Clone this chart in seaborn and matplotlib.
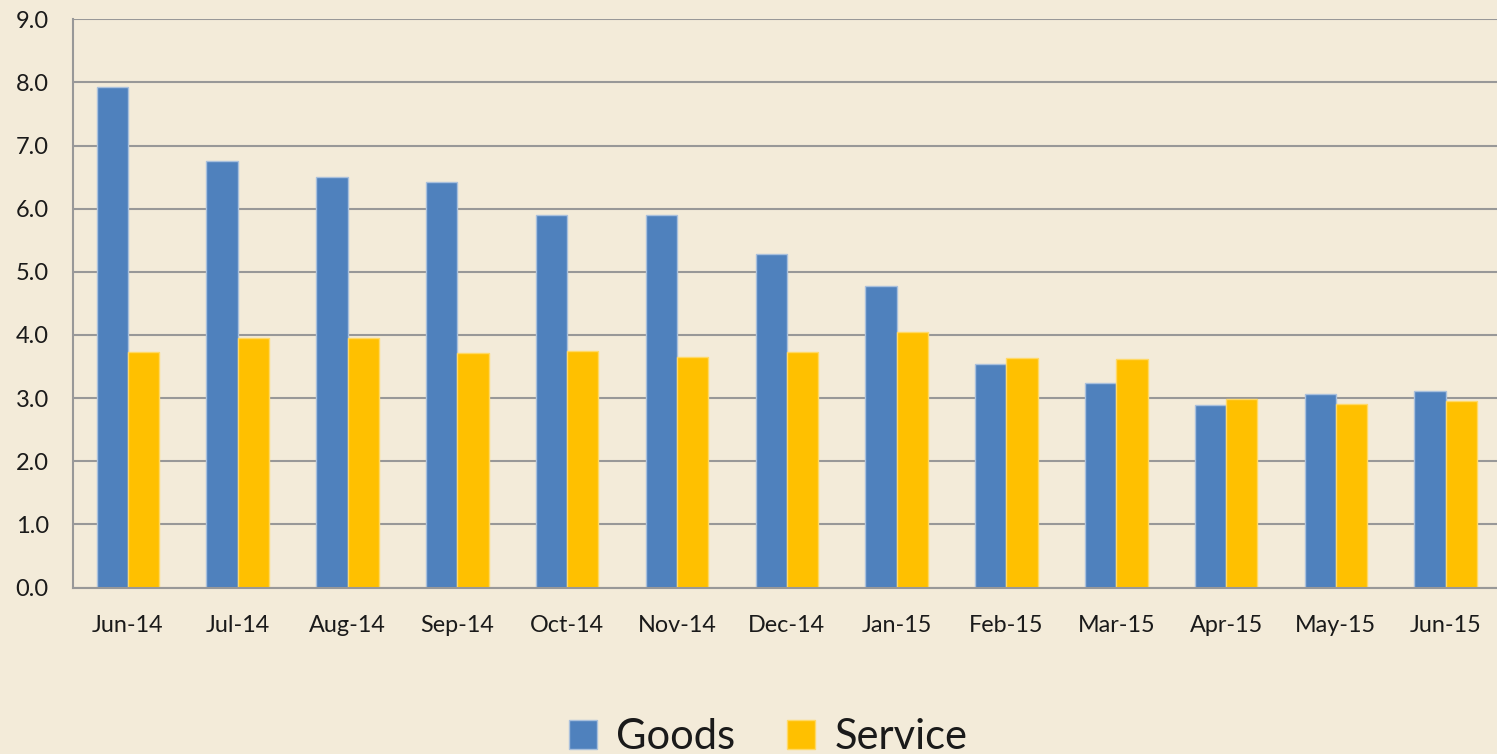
import numpy as np
import pandas as pd
import matplotlib
matplotlib.use("Agg")
import matplotlib.pyplot as plt
import seaborn as sns
from matplotlib.patches import Patch

months = ["Jun-14", "Jul-14", "Aug-14", "Sep-14", "Oct-14", "Nov-14", "Dec-14",
          "Jan-15", "Feb-15", "Mar-15", "Apr-15", "May-15", "Jun-15"]
goods = [7.93, 6.76, 6.50, 6.42, 5.90, 5.90, 5.29, 4.77, 3.54, 3.24, 2.89, 3.07, 3.11]
service = [3.73, 3.95, 3.95, 3.71, 3.75, 3.65, 3.73, 4.04, 3.64, 3.62, 2.98, 2.91, 2.95]
series_names = ["Goods", "Service"]
yticks = [0, 1, 2, 3, 4, 5, 6, 7, 8, 9]

BG = "#F3EBD9"
BLUE = "#4F81BD"
GOLD = "#FFC000"
GRID = "#989898"
TXT = "#1A1A1A"

sns.set_theme(style="white")
plt.rcParams["font.family"] = ["Lato", "DejaVu Sans"]

df = pd.DataFrame({
    "month": months * 2,
    "value": goods + service,
    "series": [series_names[0]] * len(months) + [series_names[1]] * len(months),
})

W, H = 1497, 754
fig = plt.figure(figsize=(W / 100, H / 100), dpi=100, facecolor=BG)
left, right, top, bottom = 73, 1500.6, 19.3, 587.5
ax = fig.add_axes([left / W, 1 - bottom / H, (right - left) / W, (bottom - top) / H])
ax.set_facecolor(BG)

sns.barplot(data=df, x="month", y="value", hue="series", order=months,
            hue_order=series_names, palette=[BLUE, GOLD], width=0.57,
            gap=0, ax=ax, legend=False, saturation=1)
for i, p in enumerate(ax.patches):
    p.set_edgecolor("#A9C0DC" if i < len(months) else "#FFD966")
    p.set_linewidth(1.0)

ax.set_ylim(0, 9)
ax.set_xlim(-0.5, len(months) - 0.5)
ax.set_yticks(yticks)
ax.set_yticklabels([f"{v:.1f}" for v in yticks], fontsize=17, color=TXT)
ax.yaxis.grid(True, color=GRID, linewidth=1.5)
ax.set_axisbelow(True)

# tick marks at category boundaries, labels at centres
ax.set_xticks(np.arange(-0.5, len(months), 1.0))
ax.set_xticklabels([])
ax.set_xticks(np.arange(len(months)), minor=True)
ax.set_xticklabels(months, minor=True, fontsize=16.8, color=TXT)
ax.tick_params(axis="x", which="major", length=7, width=1.2, color=GRID, direction="out")
ax.tick_params(axis="x", which="minor", length=0, pad=20)
ax.tick_params(axis="y", length=7.5, width=1.2, color=GRID, direction="out", pad=10)

ax.set_xlabel("")
ax.set_ylabel("")
for s in ["top", "right"]:
    ax.spines[s].set_visible(False)
for s in ["left", "bottom"]:
    ax.spines[s].set_color(GRID)
    ax.spines[s].set_linewidth(1.5)

handles = [Patch(facecolor=BLUE, edgecolor="#A9C0DC", label=series_names[0]),
           Patch(facecolor=GOLD, edgecolor="#FFD966", label=series_names[1])]
fig.legend(handles=handles, loc="center", bbox_to_anchor=(768 / W, 1 - 737 / H),
           ncol=2, frameon=False, fontsize=30, handlelength=0.68, handleheight=0.68,
           handletextpad=0.45, columnspacing=1.25, labelcolor=TXT)

fig.savefig("out.png", dpi=100, facecolor=BG)
